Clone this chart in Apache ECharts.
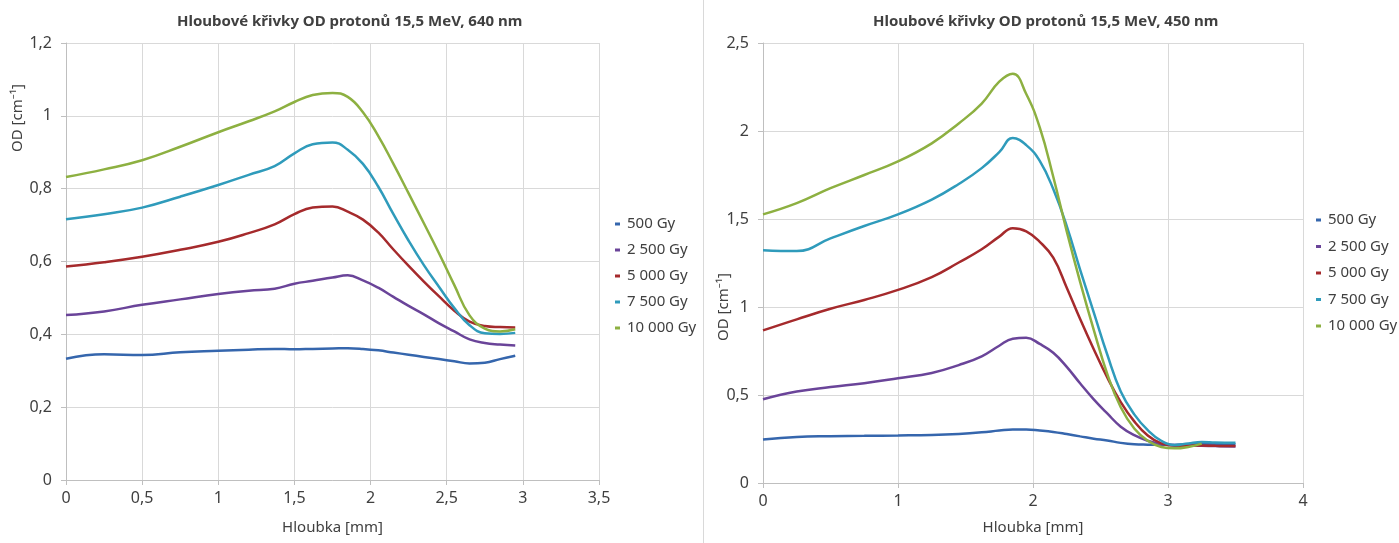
<!DOCTYPE html>
<html>
<head>
<meta charset="utf-8">
<script src="https://cdn.jsdelivr.net/npm/echarts@6/dist/echarts.min.js"></script>
<style>
  html, body { margin: 0; padding: 0; background: #fff; }
  .wrap { display: flex; width: 1399px; height: 543px; }
  #chart640 { width: 703px; height: 543px; }
  #chart450 { width: 695px; height: 543px; border-left: 1px solid #d9d9d9; }
</style>
</head>
<body>
<div class="wrap">
  <div id="chart640"></div>
  <div id="chart450"></div>
</div>
<script>
// legenda
const doses = ['500 Gy', '2 500 Gy', '5 000 Gy', '7 500 Gy', '10 000 Gy']
const colors = ['#3566ad', '#6a4499', '#a52a2c', '#2f9bbb', '#8db041']

// 640 nm - hloubka [mm]
const depth640 = [0, 0.25, 0.5, 0.75, 1, 1.2, 1.37, 1.5, 1.62, 1.75, 1.85, 1.95, 2.05, 2.15, 2.25, 2.35, 2.45, 2.55, 2.65, 2.75, 2.85, 2.95]
const od640_500 = [0.333, 0.345, 0.343, 0.351, 0.355, 0.358, 0.36, 0.359, 0.36, 0.361, 0.362, 0.36, 0.356, 0.35, 0.344, 0.338, 0.332, 0.326, 0.32, 0.322, 0.332, 0.341]
const od640_2500 = [0.453, 0.463, 0.481, 0.496, 0.511, 0.52, 0.525, 0.539, 0.547, 0.556, 0.562, 0.548, 0.528, 0.503, 0.478, 0.455, 0.43, 0.408, 0.386, 0.376, 0.372, 0.369]
const od640_5000 = [0.586, 0.598, 0.613, 0.632, 0.654, 0.678, 0.702, 0.73, 0.748, 0.751, 0.737, 0.715, 0.68, 0.633, 0.588, 0.545, 0.504, 0.465, 0.435, 0.423, 0.42, 0.419]
const od640_7500 = [0.716, 0.73, 0.748, 0.778, 0.81, 0.838, 0.862, 0.897, 0.922, 0.927, 0.907, 0.868, 0.806, 0.73, 0.657, 0.59, 0.53, 0.472, 0.425, 0.403, 0.401, 0.404]
const od640_10000 = [0.832, 0.853, 0.878, 0.915, 0.955, 0.985, 1.012, 1.038, 1.057, 1.063, 1.052, 1.01, 0.945, 0.868, 0.787, 0.705, 0.622, 0.535, 0.452, 0.416, 0.408, 0.414]

// 450 nm - hloubka [mm]
const depth450 = [0, 0.25, 0.5, 0.75, 1, 1.25, 1.45, 1.62, 1.75, 1.85, 1.95, 2.05, 2.15, 2.25, 2.35, 2.45, 2.55, 2.65, 2.75, 2.85, 2.95, 3.05, 3.15, 3.25, 3.35, 3.5]
const od450_500 = [0.247, 0.262, 0.266, 0.268, 0.27, 0.273, 0.279, 0.288, 0.298, 0.304, 0.304, 0.298, 0.29, 0.278, 0.265, 0.252, 0.242, 0.228, 0.22, 0.218, 0.217, 0.218, 0.22, 0.222, 0.221, 0.22]
const od450_2500 = [0.476, 0.52, 0.545, 0.567, 0.595, 0.625, 0.67, 0.72, 0.78, 0.82, 0.825, 0.79, 0.74, 0.66, 0.565, 0.475, 0.395, 0.32, 0.272, 0.24, 0.22, 0.215, 0.215, 0.212, 0.21, 0.208]
const od450_5000 = [0.867, 0.93, 0.99, 1.04, 1.097, 1.17, 1.253, 1.328, 1.4, 1.448, 1.43, 1.37, 1.28, 1.11, 0.93, 0.76, 0.6, 0.46, 0.35, 0.27, 0.225, 0.212, 0.212, 0.213, 0.211, 0.21]
const od450_7500 = [1.323, 1.318, 1.39, 1.46, 1.526, 1.61, 1.699, 1.789, 1.88, 1.96, 1.92, 1.83, 1.67, 1.46, 1.21, 0.97, 0.73, 0.52, 0.39, 0.3, 0.24, 0.215, 0.225, 0.233, 0.23, 0.228]
const od450_10000 = [1.526, 1.59, 1.675, 1.75, 1.827, 1.93, 2.043, 2.156, 2.28, 2.325, 2.21, 2.02, 1.74, 1.43, 1.14, 0.87, 0.62, 0.43, 0.31, 0.24, 0.205, 0.197, 0.205, 0.224, null, null]

const font = 'Noto Sans'
const comma = v => String(v).replace('.', ',')

const makeSeries = (depth, lists) => lists.map((vals, i) => ({
  name: doses[i],
  type: 'line',
  smooth: 0.45,
  showSymbol: false,
  data: depth.map((x, j) => [x, vals[j]]).filter(p => p[1] !== null),
  lineStyle: { width: 2.5, color: colors[i] },
  itemStyle: { color: colors[i] }
}))

const makeOption = cfg => ({
  animation: false,
  textStyle: { fontFamily: font },
  title: {
    text: cfg.title,
    left: cfg.titleLeft,
    top: 9,
    textStyle: { fontFamily: font, fontSize: 15, fontWeight: 'bold', color: '#404040' }
  },
  legend: {
    orient: 'vertical',
    left: cfg.legendLeft,
    top: cfg.legendTop,
    icon: 'rect',
    itemWidth: 5,
    itemHeight: 3,
    itemGap: cfg.legendGap,
    data: doses,
    textStyle: { fontFamily: font, fontSize: 15, color: '#404040', lineHeight: 16, padding: [0, 0, 0, 2] }
  },
  grid: cfg.grid,
  xAxis: {
    type: 'value',
    min: 0,
    max: cfg.xMax,
    interval: cfg.xStep,
    name: 'Hloubka [mm]',
    nameLocation: 'middle',
    nameGap: cfg.xNameGap,
    nameTextStyle: { fontFamily: font, fontSize: 15, color: '#404040' },
    axisLine: { lineStyle: { color: '#bfbfbf' } },
    axisTick: { show: true, length: 5, lineStyle: { color: '#bfbfbf' } },
    axisLabel: { formatter: comma, fontSize: 16, color: '#404040', margin: 10 },
    splitLine: { lineStyle: { color: '#d9d9d9' } }
  },
  yAxis: {
    type: 'value',
    min: 0,
    max: cfg.yMax,
    interval: cfg.yStep,
    axisLine: { show: true, lineStyle: { color: '#bfbfbf' } },
    axisTick: { show: true, length: 5, lineStyle: { color: '#bfbfbf' } },
    axisLabel: { formatter: comma, fontSize: 16, color: '#404040', margin: 14 },
    splitLine: { lineStyle: { color: '#d9d9d9' } }
  },
  graphic: [{
    type: 'text',
    x: cfg.yNameX,
    y: cfg.yNameY,
    rotation: Math.PI / 2,
    style: {
      text: 'OD [cm⁻¹]',
      align: 'center',
      verticalAlign: 'middle',
      fontFamily: font,
      fontSize: 15,
      fill: '#404040'
    }
  }],
  series: cfg.series
})

const chart640 = echarts.init(document.getElementById('chart640'))
chart640.setOption(makeOption({
  title: 'Hloubové křivky OD protonů 15,5 MeV, 640 nm',
  titleLeft: 172,
  legendLeft: 610,
  legendTop: 211,
  legendGap: 10,
  grid: { left: 66, top: 43, width: 533, height: 437 },
  xMax: 3.5,
  xStep: 0.5,
  xNameGap: 40,
  yMax: 1.2,
  yStep: 0.2,
  yNameX: 18,
  yNameY: 118,
  series: makeSeries(depth640, [od640_500, od640_2500, od640_5000, od640_7500, od640_10000])
}))

const chart450 = echarts.init(document.getElementById('chart450'))
chart450.setOption(makeOption({
  title: 'Hloubové křivky OD protonů 15,5 MeV, 450 nm',
  titleLeft: 164,
  legendLeft: 607,
  legendTop: 207,
  legendGap: 10.5,
  grid: { left: 59, top: 43, width: 540, height: 440 },
  xMax: 4,
  xStep: 1,
  xNameGap: 37,
  yMax: 2.5,
  yStep: 0.5,
  yNameX: 20,
  yNameY: 307,
  series: makeSeries(depth450, [od450_500, od450_2500, od450_5000, od450_7500, od450_10000])
}))
</script>
</body>
</html>
